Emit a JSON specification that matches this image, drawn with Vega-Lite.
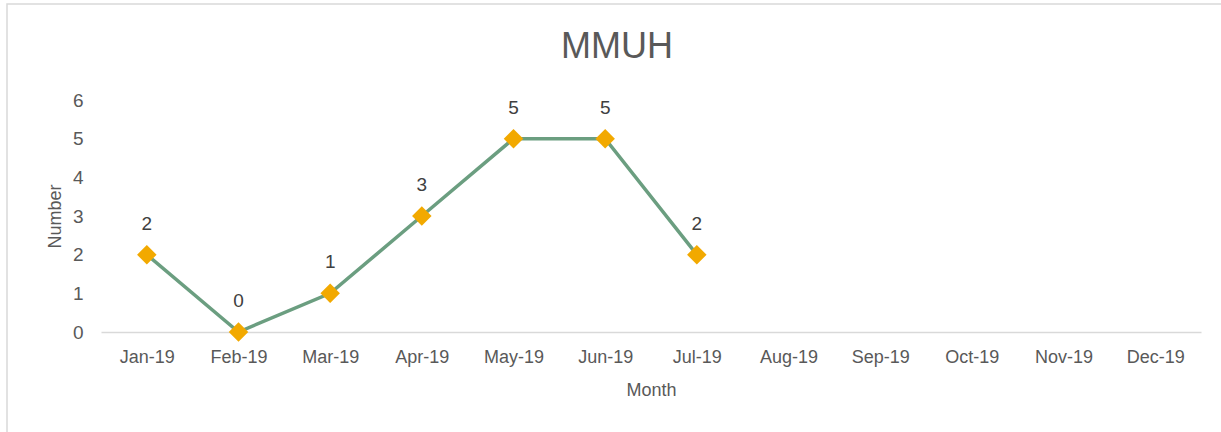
{
  "$schema": "https://vega.github.io/schema/vega-lite/v6.json",
  "width": 1220,
  "height": 432,
  "autosize": {"type": "none"},
  "padding": {"left": 7, "top": 4, "right": 0, "bottom": 0},
  "background": "white",
  "config": {
    "view": {"stroke": "#d9d9d9", "strokeWidth": 1.5},
    "font": "Liberation Sans"
  },
  "title": {
    "text": "MMUH",
    "font": "Liberation Sans",
    "fontSize": 36,
    "fontWeight": "normal",
    "color": "#595959",
    "anchor": "middle",
    "baseline": "alphabetic",
    "offset": -90
  },
  "data": {
    "values": [
      {"Month": "Jan-19", "Number": 2},
      {"Month": "Feb-19", "Number": 0},
      {"Month": "Mar-19", "Number": 1},
      {"Month": "Apr-19", "Number": 3},
      {"Month": "May-19", "Number": 5},
      {"Month": "Jun-19", "Number": 5},
      {"Month": "Jul-19", "Number": 2}
    ]
  },
  "encoding": {
    "x": {
      "field": "Month",
      "type": "ordinal",
      "sort": null,
      "scale": {
        "type": "point",
        "domain": ["Jan-19", "Feb-19", "Mar-19", "Apr-19", "May-19", "Jun-19", "Jul-19", "Aug-19", "Sep-19", "Oct-19", "Nov-19", "Dec-19"],
        "range": [94, 1194],
        "padding": 0.5
      },
      "axis": {
        "title": "Month",
        "offset": -104,
        "labelAngle": 0,
        "labelFont": "Liberation Sans",
        "labelFontSize": 18,
        "labelColor": "#595959",
        "labelPadding": 16,
        "ticks": false,
        "domainColor": "#d9d9d9",
        "domainWidth": 1.5,
        "grid": false,
        "titleFont": "Liberation Sans",
        "titleFontSize": 18,
        "titleFontWeight": "normal",
        "titleColor": "#595959",
        "titlePadding": 15
      }
    },
    "y": {
      "field": "Number",
      "type": "quantitative",
      "scale": {"domain": [0, 6], "range": [328, 96], "nice": false, "zero": true},
      "axis": {
        "title": "Number",
        "offset": -94,
        "values": [0, 1, 2, 3, 4, 5, 6],
        "labelFont": "Liberation Sans",
        "labelFontSize": 19,
        "labelColor": "#595959",
        "labelPadding": 18,
        "ticks": false,
        "domain": false,
        "grid": false,
        "titleFont": "Liberation Sans",
        "titleFontSize": 18,
        "titleFontWeight": "normal",
        "titleColor": "#595959",
        "titlePadding": 8
      }
    }
  },
  "layer": [
    {"mark": {"type": "line", "color": "#6b9e80", "strokeWidth": 3.5}},
    {"mark": {"type": "point", "shape": "diamond", "filled": true, "size": 380, "color": "#f2a900", "opacity": 1}},
    {
      "mark": {"type": "text", "dy": -25, "baseline": "alphabetic", "fontSize": 19, "color": "#404040", "font": "Liberation Sans"},
      "encoding": {"text": {"field": "Number", "type": "quantitative"}}
    }
  ]
}
